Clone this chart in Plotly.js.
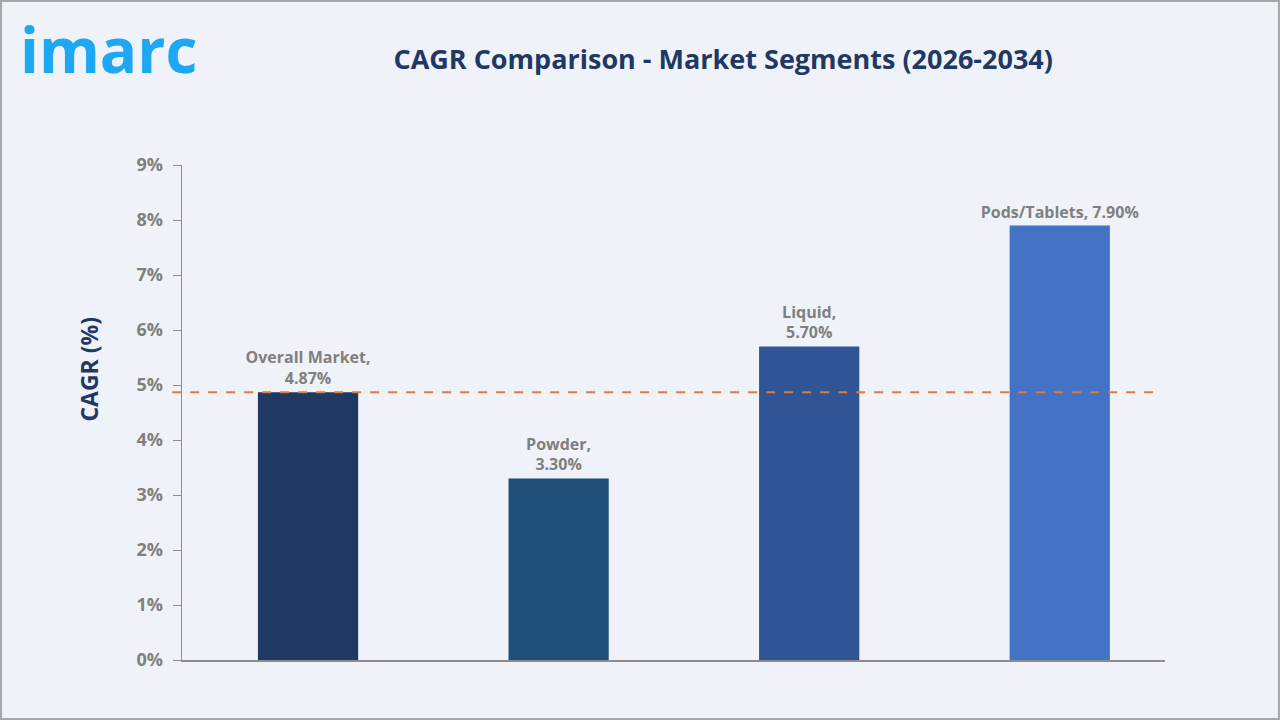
<!DOCTYPE html>
<html><head><meta charset="utf-8">
<script src="https://cdn.plot.ly/plotly-3.0.1.min.js"></script>
<style>html,body{margin:0;padding:0;background:#EFF3F9;}#c{width:1280px;height:720px;}</style>
</head><body><div id="c"></div>
<script>
const categories = ["Overall Market", "Powder", "Liquid", "Pods/Tablets"];
const cagrValues = [4.87, 3.30, 5.70, 7.90];
const labelTexts = ["Overall Market,<br>4.87%", "Powder,<br>3.30%", "Liquid,<br>5.70%", "Pods/Tablets, 7.90%"];
const barColors = ["#203864", "#1F4E79", "#2F5597", "#4472C4"];
const referenceValue = 4.87;
const yTickVals = [0,1,2,3,4,5,6,7,8,9];
const yTickText = ["0%","1%","2%","3%","4%","5%","6%","7%","8%","9%"];

const FONT = "Open Sans, Liberation Sans, sans-serif";
const trace = {
  type: "bar", x: categories, y: cagrValues, width: 0.4,
  marker: {color: barColors},
  text: labelTexts, textposition: "outside", cliponaxis: false, constraintext: "none",
  textfont: {family: FONT, size: 16, color: "#7F7F7F", weight: 700},
  hoverinfo: "none"
};
const layout = {
  width: 1280, height: 720,
  paper_bgcolor: "#EFF3F9", plot_bgcolor: "#EFF3F9",
  margin: {l: 182, r: 115, t: 165, b: 60},
  showlegend: false,
  title: {text: "<b>CAGR Comparison - Market Segments (2026-2034)</b>", x: 0.565, xanchor: "center", y: 0.917, yanchor: "middle",
    font: {family: FONT, size: 27, color: "#1F3864"}},
  xaxis: {range: [-0.503, 3.42], showticklabels: false, showline: true, linecolor: "#8C8C8C", linewidth: 1.5, ticks: "", showgrid: false, zeroline: false, fixedrange: true},
  yaxis: {range: [0, 9], tickvals: yTickVals, ticktext: yTickText, showline: true, linecolor: "#8C8C8C", linewidth: 1.5,
    ticks: "outside", ticklen: 8, tickcolor: "#8C8C8C", showgrid: false, zeroline: false, ticklabelstandoff: 6,
    tickfont: {family: FONT, size: 18, color: "#7F7F7F", weight: 700}},
  shapes: [
    {type: "line", xref: "paper", x0: -0.01, x1: 0.995, yref: "y", y0: referenceValue, y1: referenceValue,
     line: {color: "#E07B39", width: 2, dash: "dash"}},
    {type: "rect", xref: "paper", yref: "paper", x0: -0.1841, x1: 1.1159, y0: -0.1192, y1: 1.3313,
     line: {color: "#A6A6A6", width: 2}, fillcolor: "rgba(0,0,0,0)"}
  ],
  annotations: [
    {text: "<b>imarc</b>", xref: "paper", yref: "paper", x: -0.167, y: 1.234, xanchor: "left", yanchor: "middle", showarrow: false,
     font: {family: FONT, size: 62, color: "#1EA7F2"}},
    {text: "<b>CAGR (%)</b>", xref: "paper", yref: "paper", x: -0.095, y: 0.588, xanchor: "center", yanchor: "middle", showarrow: false,
     textangle: -90, font: {family: FONT, size: 23, color: "#1F3864"}}
  ]
};
Plotly.newPlot("c", [trace], layout, {displayModeBar: false, staticPlot: true});
</script></body></html>
